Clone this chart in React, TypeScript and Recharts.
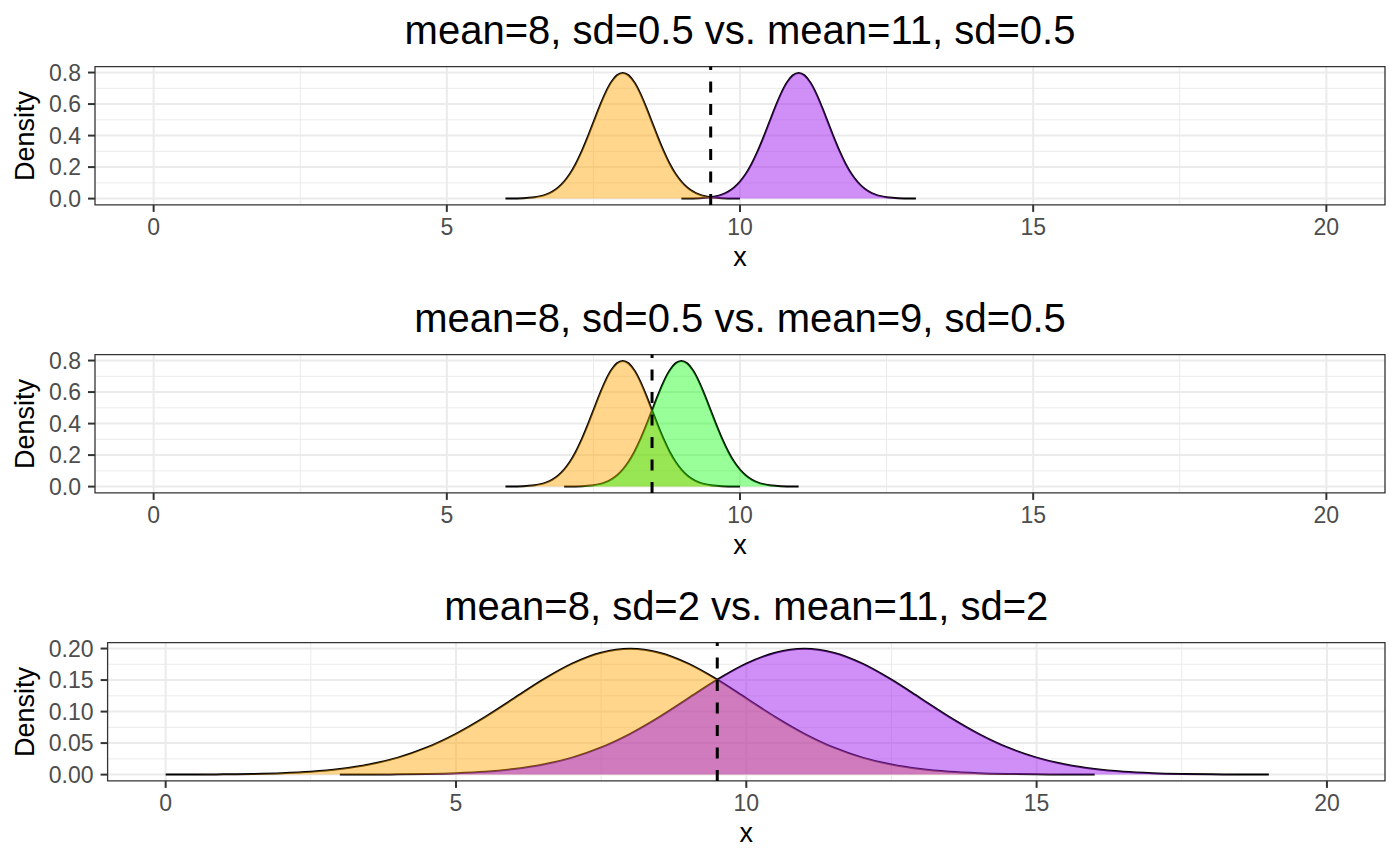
import React from 'react';
import {
    ComposedChart, Area, XAxis, YAxis, CartesianGrid,
    ReferenceLine, ReferenceArea,
} from 'recharts';

// Three stacked density comparisons (ggplot theme_bw look)

const FONT = "'Liberation Sans', Arial, Helvetica, sans-serif";

const TITLES = [
    'mean=8, sd=0.5 vs. mean=11, sd=0.5',
    'mean=8, sd=0.5 vs. mean=9, sd=0.5',
    'mean=8, sd=2 vs. mean=11, sd=2',
];
const FIRST_MEANS = [8, 8, 8];
const SECOND_MEANS = [11, 9, 11];
const CUTOFFS = [9.5, 8.5, 9.5];
const IS_WIDE = [false, false, true];
const FIRST_FILL = '#FFA500';
const SECOND_FILLS = ['#A020F0', '#00FF00', '#A020F0'];
const SECOND_OPACITY = [0.5, 0.4, 0.5];

const X_TICKS = [0, 5, 10, 15, 20];
const X_MINOR = [2.5, 7.5, 12.5, 17.5];
const X_DOMAIN = [-1, 21];

const NARROW_Y_TICKS = [0, 0.2, 0.4, 0.6, 0.8];
const NARROW_Y_MINOR = [0.1, 0.3, 0.5, 0.7];
const NARROW_Y_DOMAIN = [-0.0399, 0.8378];
const WIDE_Y_TICKS = [0, 0.05, 0.1, 0.15, 0.2];
const WIDE_Y_MINOR = [0.025, 0.075, 0.125, 0.175];
const WIDE_Y_DOMAIN = [-0.00997, 0.20944];

// sd = 0.5 curve, offsets from the mean
const NARROW_OFFSETS = [
    -2, -1.9, -1.8, -1.7, -1.6, -1.5, -1.4, -1.3, -1.2, -1.1,
    -1, -0.9, -0.8, -0.7, -0.6, -0.5, -0.4, -0.3, -0.2, -0.1,
    0,
    0.1, 0.2, 0.3, 0.4, 0.5, 0.6, 0.7, 0.8, 0.9, 1,
    1.1, 1.2, 1.3, 1.4, 1.5, 1.6, 1.7, 1.8, 1.9, 2,
];
const NARROW_DENSITY = [
    0.0003, 0.0006, 0.0012, 0.0025, 0.0048, 0.0089, 0.0158, 0.0271, 0.0448, 0.0709,
    0.1080, 0.1579, 0.2218, 0.2995, 0.3884, 0.4839, 0.5794, 0.6664, 0.7365, 0.7821,
    0.7979,
    0.7821, 0.7365, 0.6664, 0.5794, 0.4839, 0.3884, 0.2995, 0.2218, 0.1579, 0.1080,
    0.0709, 0.0448, 0.0271, 0.0158, 0.0089, 0.0048, 0.0025, 0.0012, 0.0006, 0.0003,
];

// sd = 2 curve, offsets from the mean
const WIDE_OFFSETS = [
    -8, -7.5, -7, -6.5, -6, -5.5, -5, -4.5, -4, -3.5, -3, -2.5, -2, -1.5, -1, -0.5,
    0,
    0.5, 1, 1.5, 2, 2.5, 3, 3.5, 4, 4.5, 5, 5.5, 6, 6.5, 7, 7.5, 8,
];
const WIDE_DENSITY = [
    0.0001, 0.0002, 0.0004, 0.0010, 0.0022, 0.0045, 0.0088, 0.0159,
    0.0270, 0.0431, 0.0648, 0.0913, 0.1210, 0.1506, 0.1760, 0.1933,
    0.1995,
    0.1933, 0.1760, 0.1506, 0.1210, 0.0913, 0.0648, 0.0431, 0.0270,
    0.0159, 0.0088, 0.0045, 0.0022, 0.0010, 0.0004, 0.0002, 0.0001,
];

const PANEL_H = 288;
const PLOT_TOP = 66.6;
const PLOT_H = 138.3;
const RIGHT = 15;
const Y_AXIS_W = [95, 95, 107.6];

function buildRows(offsets: number[], density: number[], means: number[]) {
    const keys = ['a', 'b'];
    const map = new Map<number, any>();
    means.forEach((m, s) => {
        offsets.forEach((o, i) => {
            const x = Math.round((m + o) * 100) / 100;
            const row = map.get(x) ?? { x, a: null, b: null };
            row[keys[s]] = density[i];
            map.set(x, row);
        });
    });
    return [...map.values()].sort((p, q) => p.x - q.x);
}

function Panel({ i }: { i: number }) {
    const wide = IS_WIDE[i];
    const rows = buildRows(
        wide ? WIDE_OFFSETS : NARROW_OFFSETS,
        wide ? WIDE_DENSITY : NARROW_DENSITY,
        [FIRST_MEANS[i], SECOND_MEANS[i]],
    );
    const yTicks = wide ? WIDE_Y_TICKS : NARROW_Y_TICKS;
    const yMinor = wide ? WIDE_Y_MINOR : NARROW_Y_MINOR;
    const yDomain = wide ? WIDE_Y_DOMAIN : NARROW_Y_DOMAIN;
    const yw = Y_AXIS_W[i];
    const plotW = 1400 - RIGHT - yw;
    const tickStyle = { fill: '#4D4D4D', fontSize: 23, fontFamily: FONT };

    return (
        <div style={{ position: 'absolute', left: 0, top: i * PANEL_H, width: 1400, height: PANEL_H }}>
            <div style={{
                position: 'absolute', left: yw, width: plotW, top: 10,
                textAlign: 'center', fontSize: 40, lineHeight: '40px', color: '#000', whiteSpace: 'nowrap',
            }}>
                {TITLES[i]}
            </div>
            <div style={{
                position: 'absolute', left: 24.5, top: PLOT_TOP + PLOT_H / 2,
                transform: 'translate(-50%, -50%) rotate(-90deg)',
                fontSize: 27, lineHeight: '27px', color: '#000', whiteSpace: 'nowrap',
            }}>
                Density
            </div>
            <div style={{
                position: 'absolute', left: yw, width: plotW, top: 244.4,
                textAlign: 'center', fontSize: 27, lineHeight: '27px', color: '#000',
            }}>
                x
            </div>
            <ComposedChart
                width={1400}
                height={PANEL_H}
                data={rows}
                margin={{ top: PLOT_TOP, right: RIGHT, bottom: 0, left: 0 }}
            >
                <CartesianGrid horizontalValues={yMinor} verticalValues={X_MINOR} stroke="#EBEBEB" strokeWidth={1} />
                <CartesianGrid horizontalValues={yTicks} verticalValues={X_TICKS} stroke="#EBEBEB" strokeWidth={2} />
                <XAxis
                    type="number"
                    dataKey="x"
                    domain={X_DOMAIN}
                    ticks={X_TICKS}
                    interval={0}
                    allowDataOverflow
                    height={PANEL_H - PLOT_TOP - PLOT_H}
                    axisLine={false}
                    tickLine={{ stroke: '#333333', strokeWidth: 2 }}
                    tickSize={7}
                    tickMargin={7}
                    tick={tickStyle}
                />
                <YAxis
                    type="number"
                    domain={yDomain}
                    ticks={yTicks}
                    interval={0}
                    allowDataOverflow
                    width={yw}
                    axisLine={false}
                    tickLine={{ stroke: '#333333', strokeWidth: 2 }}
                    tickSize={7}
                    tickMargin={7}
                    tick={tickStyle}
                    tickFormatter={(v: number) => v.toFixed(wide ? 2 : 1)}
                />
                {/* outlines first, translucent fills over them */}
                <Area dataKey="a" type="monotone" stroke="#000" strokeWidth={2} fill="none"
                    dot={false} activeDot={false} isAnimationActive={false} />
                <Area dataKey="b" type="monotone" stroke="#000" strokeWidth={2} fill="none"
                    dot={false} activeDot={false} isAnimationActive={false} />
                <Area dataKey="a" type="monotone" stroke="none" fill={FIRST_FILL} fillOpacity={0.45}
                    dot={false} activeDot={false} isAnimationActive={false} />
                <Area dataKey="b" type="monotone" stroke="none" fill={SECOND_FILLS[i]} fillOpacity={SECOND_OPACITY[i]}
                    dot={false} activeDot={false} isAnimationActive={false} />
                <ReferenceLine x={CUTOFFS[i]} stroke="#000" strokeWidth={3} strokeDasharray="11 11.5" />
                <ReferenceArea x1={X_DOMAIN[0]} x2={X_DOMAIN[1]} y1={yDomain[0]} y2={yDomain[1]}
                    fill="none" stroke="#333333" strokeWidth={1.3} fillOpacity={0} />
            </ComposedChart>
        </div>
    );
}

export default function App() {
    return (
        <div style={{
            position: 'absolute', left: 0, top: 0, width: 1400, height: 865,
            background: '#fff', fontFamily: FONT,
        }}>
            {TITLES.map((_t, i) => <Panel key={i} i={i} />)}
        </div>
    );
}
